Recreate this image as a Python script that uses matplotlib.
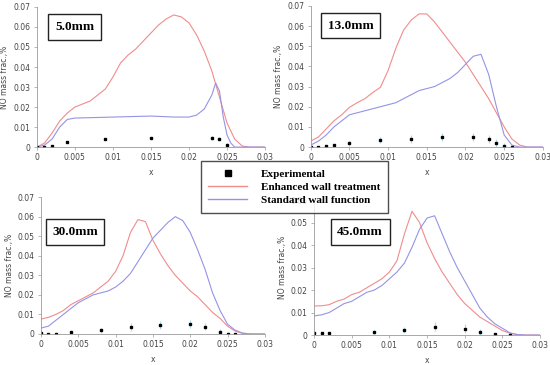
import matplotlib
matplotlib.use('Agg')
import matplotlib.pyplot as plt
from matplotlib.lines import Line2D

# Posiciones de las curvas (m)
x_grid = [0, 0.001, 0.002, 0.003, 0.004, 0.005, 0.006, 0.007, 0.008, 0.009,
          0.010, 0.011, 0.012, 0.013, 0.014, 0.015, 0.016, 0.017, 0.018, 0.019,
          0.020, 0.021, 0.022, 0.023, 0.024, 0.025, 0.026, 0.027, 0.028, 0.030]

# 5.0 mm
red_5 = [0, 0.002, 0.007, 0.013, 0.017, 0.020, 0.0215, 0.023, 0.026, 0.029,
         0.035, 0.042, 0.046, 0.049, 0.053, 0.057, 0.061, 0.064, 0.066, 0.065,
         0.062, 0.056, 0.048, 0.038, 0.025, 0.012, 0.004, 0.0005, 0, 0]
x_blue_5 = [0, 0.001, 0.002, 0.003, 0.004, 0.005, 0.008, 0.010, 0.013, 0.015,
            0.018, 0.020, 0.021, 0.022, 0.023, 0.0235, 0.024, 0.0245, 0.025,
            0.0255, 0.026, 0.030]
blue_5 = [0, 0.001, 0.004, 0.010, 0.0138, 0.0145, 0.0148, 0.015, 0.0153, 0.0155,
          0.015, 0.015, 0.016, 0.019, 0.026, 0.032, 0.028, 0.015, 0.006,
          0.002, 0, 0]
exp_x_5 = [0, 0.001, 0.002, 0.004, 0.009, 0.015, 0.023, 0.024, 0.025]
exp_y_5 = [0, 0, 0.0005, 0.0025, 0.004, 0.0045, 0.0045, 0.004, 0.001]
exp_e_5 = [0.0003, 0.0003, 0.0004, 0.0005, 0.0006, 0.0006, 0.001, 0.001, 0.0008]

# 13.0 mm
red_13 = [0.003, 0.005, 0.009, 0.013, 0.016, 0.0197, 0.022, 0.024, 0.027, 0.0296,
          0.038, 0.049, 0.058, 0.063, 0.066, 0.066, 0.062, 0.057, 0.052, 0.047,
          0.042, 0.036, 0.030, 0.024, 0.017, 0.010, 0.004, 0.001, 0, 0]
blue_13 = [0.001, 0.003, 0.006, 0.010, 0.013, 0.016, 0.017, 0.018, 0.019, 0.020,
           0.021, 0.022, 0.024, 0.026, 0.028, 0.029, 0.030, 0.032, 0.034, 0.037,
           0.041, 0.045, 0.046, 0.036, 0.020, 0.006, 0.001, 0, 0, 0]
exp_x_13 = [0, 0.001, 0.002, 0.003, 0.005, 0.009, 0.013, 0.017, 0.021, 0.023,
            0.024, 0.025, 0.026]
exp_y_13 = [0, 0, 0.0003, 0.0008, 0.0018, 0.0035, 0.0042, 0.0048, 0.0048, 0.004,
            0.0022, 0.0006, 0.0001]
exp_e_13 = [0.0003, 0.0003, 0.0005, 0.0008, 0.0012, 0.0015, 0.002, 0.002, 0.002,
            0.002, 0.002, 0.0012, 0.0005]

# 30.0 mm
red_30 = [0.0076, 0.0085, 0.010, 0.012, 0.015, 0.017, 0.019, 0.021, 0.024, 0.027,
          0.032, 0.040, 0.052, 0.0585, 0.0575, 0.048, 0.041, 0.035, 0.030, 0.026,
          0.022, 0.019, 0.015, 0.011, 0.008, 0.004, 0.0015, 0.0003, 0, 0]
blue_30 = [0.003, 0.004, 0.007, 0.010, 0.013, 0.016, 0.018, 0.020, 0.021, 0.022,
           0.024, 0.027, 0.031, 0.037, 0.043, 0.049, 0.053, 0.057, 0.060, 0.058,
           0.052, 0.043, 0.033, 0.021, 0.012, 0.005, 0.002, 0.0005, 0, 0]
exp_x_30 = [0, 0.001, 0.002, 0.004, 0.008, 0.012, 0.016, 0.020, 0.022, 0.024,
            0.025, 0.026]
exp_y_30 = [0.0003, 0.0002, 0.0002, 0.0008, 0.0018, 0.0035, 0.0048, 0.005, 0.0038,
            0.0008, 0.0002, 0]
exp_e_30 = [0.0003, 0.0003, 0.0003, 0.0006, 0.0012, 0.002, 0.002, 0.002, 0.002,
            0.0015, 0.0006, 0.0003]

# 45.0 mm
red_45 = [0.0129, 0.013, 0.0135, 0.015, 0.016, 0.018, 0.019, 0.021, 0.023, 0.025,
          0.028, 0.033, 0.045, 0.055, 0.050, 0.041, 0.034, 0.028, 0.023, 0.018,
          0.014, 0.011, 0.008, 0.006, 0.004, 0.002, 0.0008, 0.0002, 0, 0]
blue_45 = [0.0085, 0.009, 0.010, 0.012, 0.014, 0.015, 0.017, 0.019, 0.020, 0.022,
           0.025, 0.028, 0.032, 0.039, 0.047, 0.052, 0.053, 0.045, 0.037, 0.030,
           0.024, 0.018, 0.012, 0.008, 0.005, 0.003, 0.001, 0.0002, 0, 0]
exp_x_45 = [0, 0.001, 0.002, 0.008, 0.012, 0.016, 0.020, 0.022, 0.024, 0.026]
exp_y_45 = [0.0007, 0.0007, 0.0007, 0.0013, 0.0023, 0.0038, 0.0028, 0.0012, 0.0003, 0]
exp_e_45 = [0.0003, 0.0003, 0.0003, 0.001, 0.0015, 0.002, 0.002, 0.0015, 0.0008, 0.0003]

labels = ['5.0mm', '13.0mm', '30.0mm', '45.0mm']

RED = '#f08c8c'
BLUE = '#9494e6'
ERR = '#a8dcea'
GRAY = '#9a9a9a'

fig = plt.figure(figsize=(5.5, 3.65), dpi=100)

# [left, bottom, width, height], caja de texto (x, y) en fracción de ejes, ymax
paneles = [
    ([0.067, 0.597, 0.415, 0.384], (0.165, 0.857), 0.07),
    ([0.565, 0.597, 0.422, 0.387], (0.172, 0.858), 0.07),
    ([0.0745, 0.085, 0.407, 0.375], (0.152, 0.745), 0.07),
    ([0.571, 0.082, 0.411, 0.370], (0.204, 0.763), 0.06),
]

datos = [
    (x_blue_5, blue_5, red_5, exp_x_5, exp_y_5, exp_e_5),
    (x_grid, blue_13, red_13, exp_x_13, exp_y_13, exp_e_13),
    (x_grid, blue_30, red_30, exp_x_30, exp_y_30, exp_e_30),
    (x_grid, blue_45, red_45, exp_x_45, exp_y_45, exp_e_45),
]

for (pos, caja, ymax), (xb, yb, yr, ex, ey, ee), lab in zip(paneles, datos, labels):
    ax = fig.add_axes(pos)
    ax.plot(x_grid, yr, color=RED, lw=0.8)
    ax.plot(xb, yb, color=BLUE, lw=0.8)
    ax.errorbar(ex, ey, yerr=ee, fmt='none', ecolor=ERR, elinewidth=0.8)
    ax.plot(ex, ey, 's', color='black', ms=2)
    ax.set_xlim(0, 0.03)
    ax.set_ylim(0, ymax)
    ax.set_xticks([0, 0.005, 0.01, 0.015, 0.02, 0.025, 0.03])
    ax.set_xticklabels(['0', '0.005', '0.01', '0.015', '0.02', '0.025', '0.03'])
    yt = [i / 100 for i in range(int(round(ymax * 100)) + 1)]
    ax.set_yticks(yt)
    ax.set_yticklabels(['0'] + ['%.2f' % v for v in yt[1:]])
    for s in ['top', 'right']:
        ax.spines[s].set_visible(False)
    for s in ['left', 'bottom']:
        ax.spines[s].set_color(GRAY)
        ax.spines[s].set_linewidth(0.6)
    ax.tick_params(labelsize=5.5, colors='#444444', direction='out', length=2.5,
                   width=0.5, pad=2)
    ax.tick_params(color=GRAY)
    ax.set_xlabel('x', fontsize=5.5, color='#444444', labelpad=4)
    ax.set_ylabel('NO mass frac.,%', fontsize=5.5, color='#444444', labelpad=3)
    ax.patch.set_alpha(0)
    ax.text(caja[0], caja[1], lab, transform=ax.transAxes, ha='center', va='center',
            family='Liberation Serif', fontweight='bold', fontsize=9.5,
            bbox=dict(boxstyle='square,pad=0.5', fc='white', ec='#222222', lw=1.0))

# Leyenda común
handles = [
    Line2D([], [], marker='s', color='black', ls='none', ms=5),
    Line2D([], [], color=RED, lw=1),
    Line2D([], [], color=BLUE, lw=1),
]
leg = fig.legend(handles, ['Experimental', 'Enhanced wall treatment', 'Standard wall function'],
                 loc='center', bbox_to_anchor=(0.535, 0.487), frameon=True, fancybox=False,
                 prop={'family': 'Liberation Serif', 'weight': 'bold', 'size': 8},
                 handlelength=3.5, labelspacing=0.3, borderpad=0.7, handletextpad=1.2,
                 borderaxespad=0)
leg.get_frame().set_edgecolor('#222222')
leg.get_frame().set_linewidth(1.0)
leg.set_zorder(10)

fig.savefig('out.png', dpi=100)
